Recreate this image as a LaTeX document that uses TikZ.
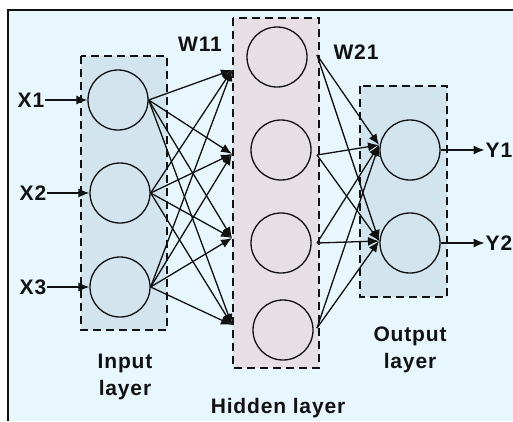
\documentclass[tikz,border=0pt]{standalone}
\usepackage{fontspec}
\setmainfont{Liberation Sans}[LetterSpace=4]
\usetikzlibrary{arrows.meta}
\definecolor{panelbg}{HTML}{E8F6FD}
\definecolor{layerblue}{HTML}{D2E4EE}
\definecolor{layerpink}{HTML}{E6DFE6}
\definecolor{ink}{HTML}{111111}
\tikzset{
  layerbox/.style={draw=ink, line width=1.3pt, dash pattern=on 8pt off 5pt},
  neuron/.style={circle, draw=ink, line width=1.3pt, minimum size=60pt, inner sep=0pt},
  label/.style={font=\fontsize{21}{27}\selectfont\bfseries, text=ink, inner sep=1pt, align=center},
  link/.style={draw=ink, line width=1.3pt, -{Latex[length=11pt,width=9pt]}}
}
\begin{document}
\begin{tikzpicture}[x=1pt,y=-1pt]
\useasboundingbox (0,0) rectangle (513,421);
\fill[white] (0,0) rectangle (513,421);
\fill[panelbg] (8,10) rectangle (513,421);
\draw[ink, line width=2pt] (8,421) -- (8,10) -- (513,10);

% layer frames
\draw[layerbox, fill=layerblue] (81,56) rectangle (167,330);
\draw[layerbox, fill=layerpink] (233,18) rectangle (319,368);
\draw[layerbox, fill=layerblue] (360,86) rectangle (447,297);

% neurons
\node[neuron] (i1) at (118,100) {};
\node[neuron] (i2) at (120,193) {};
\node[neuron] (i3) at (120,287) {};
\node[neuron] (h1) at (277,57) {};
\node[neuron] (h2) at (281,150) {};
\node[neuron] (h3) at (281,243) {};
\node[neuron] (h4) at (283,330) {};
\node[neuron] (o1) at (410,150) {};
\node[neuron] (o2) at (410,243) {};

% entry points on the hidden frame and exit points from it
\coordinate (hin1) at (232,70);
\coordinate (hin2) at (232,154);
\coordinate (hin3) at (232,238);
\coordinate (hin4) at (232,325);
\coordinate (hout1) at (317,55);
\coordinate (hout2) at (317,155);
\coordinate (hout3) at (317,243);
\coordinate (hout4) at (317,328);
\coordinate (oin1) at (379,145);
\coordinate (oin2) at (379,241);

% labels
\node[label] (x1) at (31,100) {X1};
\node[label] (x2) at (33,193) {X2};
\node[label] (x3) at (33,287) {X3};
\node[label] (y1) at (499,150) {Y1};
\node[label] (y2) at (499,243) {Y2};
\node[label] (w11) at (200,44) {W11};
\node[label] (w21) at (356,52) {W21};
\node[label] (lin) at (125,377) {Input\\layer};
\node[label] (lout) at (410,350) {Output\\layer};
\node[label] (lhid) at (278,408) {Hidden layer};

% input arrows
\draw[link] (x1) -- (i1.west);
\draw[link] (x2) -- (i2.west);
\draw[link] (x3) -- (i3.west);

% input to hidden
\foreach \i in {1,2,3}
  \foreach \h in {1,2,3,4}
    \draw[link] (i\i.east) -- (hin\h);

% hidden to output
\foreach \h in {1,2,3,4}
  \foreach \o in {1,2}
    \draw[link] (hout\h) -- (oin\o);

% output arrows
\draw[link] (o1.east) -- (y1);
\draw[link] (o2.east) -- (y2);
\end{tikzpicture}
\end{document}
